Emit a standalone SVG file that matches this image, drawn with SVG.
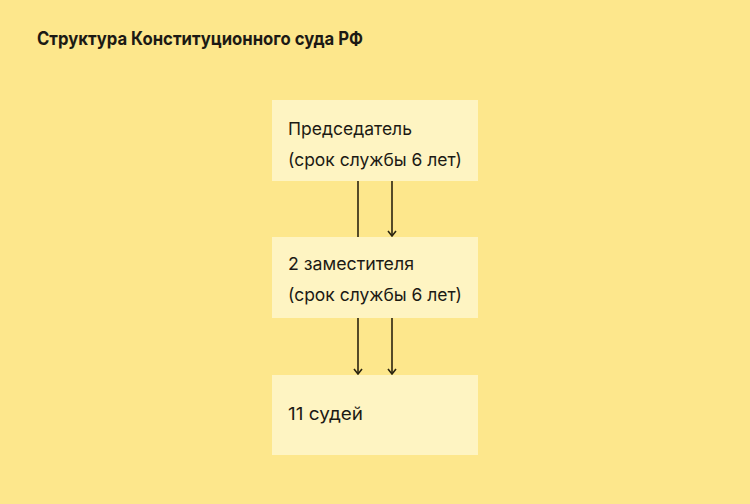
<svg xmlns="http://www.w3.org/2000/svg" width="750" height="504" viewBox="0 0 750 504">
<defs>
<style>
.bg{fill:#FDE78C}
.box{fill:#FEF4C2}
.t{font-family:Inter,"Liberation Sans","DejaVu Sans",sans-serif;font-size:17.5px;fill:#1c1a14}
.title{font-family:Inter,"Liberation Sans","DejaVu Sans",sans-serif;font-size:18.5px;font-weight:700;fill:#1c1a14}
.ln{stroke:#2a2410;stroke-width:1.6;fill:none}
</style>
<marker id="arr" viewBox="0 0 10 10" refX="9" refY="5" markerWidth="10" markerHeight="10" markerUnits="userSpaceOnUse" orient="auto">
<path d="M4,1 L9,5 L4,9" fill="none" stroke="#2a2410" stroke-width="1.6"/>
</marker>
</defs>
<rect class="bg" x="0" y="0" width="750" height="504"/>
<text class="title" x="37" y="45" textLength="326" lengthAdjust="spacingAndGlyphs">Структура Конституционного суда РФ</text>
<g id="connectors">
<line class="ln" x1="358" y1="181" x2="358" y2="237"/>
<line class="ln" x1="392" y1="181" x2="392" y2="236" marker-end="url(#arr)"/>
<line class="ln" x1="358" y1="318" x2="358" y2="374" marker-end="url(#arr)"/>
<line class="ln" x1="392" y1="318" x2="392" y2="374" marker-end="url(#arr)"/>
</g>
<g id="node-chair">
<rect class="box" x="272" y="100" width="206" height="81"/>
<text class="t" x="288" y="135" textLength="124" lengthAdjust="spacingAndGlyphs">Председатель</text>
<text class="t" x="288" y="166" textLength="174" lengthAdjust="spacingAndGlyphs">(срок службы 6 лет)</text>
</g>
<g id="node-deputies">
<rect class="box" x="272" y="237" width="206" height="81"/>
<text class="t" x="288" y="270" textLength="126" lengthAdjust="spacingAndGlyphs">2 заместителя</text>
<text class="t" x="288" y="301" textLength="174" lengthAdjust="spacingAndGlyphs">(срок службы 6 лет)</text>
</g>
<g id="node-judges">
<rect class="box" x="272" y="375" width="206" height="80"/>
<text class="t" x="288" y="420" textLength="75" lengthAdjust="spacingAndGlyphs">11 судей</text>
</g>
</svg>
